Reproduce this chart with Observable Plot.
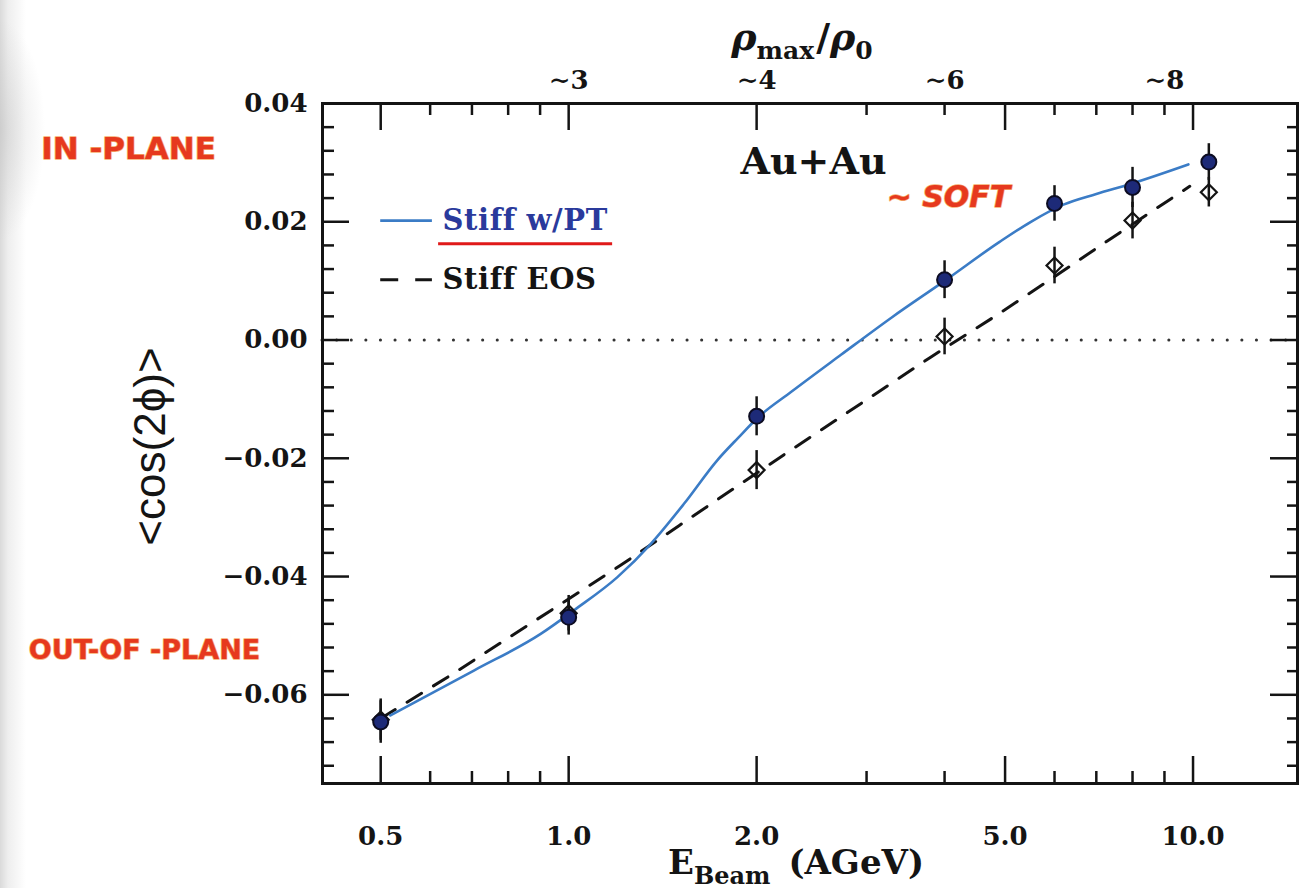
<!DOCTYPE html>
<html>
<head>
<meta charset="utf-8">
<script src="https://cdn.jsdelivr.net/npm/d3@7"></script>
<script src="https://cdn.jsdelivr.net/npm/@observablehq/plot@0.6"></script>
<style>
  html, body { margin: 0; padding: 0; }
  body {
    width: 1300px; height: 888px; overflow: hidden;
    background:
      radial-gradient(ellipse 45px 110px at 0px 130px, rgba(190,190,190,0.45), rgba(255,255,255,0) 100%),
      linear-gradient(to right, #dadada 0px, #eeeeee 8px, #ffffff 26px);
  }
  #chart svg { display: block; }
</style>
</head>
<body>
<div id="chart"></div>
<script>
// ---------- data ----------
const energy     = [0.5, 1.0, 2.0, 4.0, 6.0, 8.0, 10.6];           // E_Beam (AGeV)
const ptValues   = [-0.0646, -0.0469, -0.0129, 0.0102, 0.0231, 0.0258, 0.0301];
const ptErrors   = [0.0036, 0.0030, 0.0033, 0.0032, 0.0030, 0.0034, 0.0031];
const eosValues  = [-0.0642, -0.0462, -0.0220, 0.0006, 0.0126, 0.0202, 0.0250];
const eosErrors  = [0.0035, 0.0030, 0.0033, 0.0031, 0.0031, 0.0031, 0.0025];

// model curves
const ptCurveE  = [0.518, 0.705, 0.902, 1.02, 1.197, 1.353, 1.53, 1.731, 1.87, 2.01, 2.27, 2.73, 3.3, 4.0, 4.9, 5.5, 6.2, 7.0, 7.94, 9.83];
const ptCurveV  = [-0.0635, -0.0559, -0.0497, -0.0457, -0.0401, -0.0345, -0.0277, -0.0203, -0.0165, -0.0131, -0.0088, -0.0025, 0.0039, 0.0100, 0.0166, 0.0200, 0.0229, 0.0247, 0.0264, 0.0297];
const eosCurveE = [0.5, 0.647, 0.797, 0.983, 1.211, 1.502, 1.851, 2.241, 3.80, 4.80, 5.98, 7.30, 8.98, 9.88];
const eosCurveV = [-0.0640, -0.0567, -0.0505, -0.0443, -0.0381, -0.0314, -0.0249, -0.0190, -0.0029, 0.0039, 0.0106, 0.0168, 0.0231, 0.0260];

// axes
const xMajor = [0.5, 1, 2, 5, 10];
const xMinor = [0.6, 0.7, 0.8, 0.9, 3, 4, 6, 7, 8, 9];
const yMajor = [-0.06, -0.04, -0.02, 0, 0.02, 0.04];
const yMinor = [-0.072, -0.068, -0.064, -0.056, -0.052, -0.048, -0.044, -0.036, -0.032, -0.028, -0.024,
                -0.016, -0.012, -0.008, -0.004, 0.004, 0.008, 0.012, 0.016, 0.024, 0.028, 0.032, 0.036];
const densityAt     = [1, 2, 4, 9];
const densityLabels = ["∼3", "∼4", "∼6", "∼8"];

// series labels
const seriesNames = ["Stiff w/PT", "Stiff EOS"];

// ---------- tables ----------
const ptPoints  = energy.map((e, i) => ({e, v: ptValues[i],  err: ptErrors[i]}));
const eosPoints = energy.map((e, i) => ({e, v: eosValues[i], err: eosErrors[i]}));
const ptCurve   = ptCurveE.map((e, i) => ({e, v: ptCurveV[i]}));
const eosCurve  = eosCurveE.map((e, i) => ({e, v: eosCurveV[i]}));

const BLUE = "#3b7cc6";
const INK = "#141414";
const RED = "#e6391e";
const innerH = 680, innerW = 975;
const MAJ = 27, MIN = 12;

const serif = "'DejaVu Serif', serif";
const hand = {fontFamily: "'DejaVu Sans', sans-serif", fontWeight: "bold", fill: RED, stroke: "#f7b070", strokeWidth: 1.5, paintOrder: "stroke", textAnchor: "middle", lineAnchor: "middle"};

const plot = Plot.plot({
  width: 1300,
  height: 888,
  marginLeft: 322,
  marginRight: 3,
  marginTop: 103,
  marginBottom: 105,
  x: {type: "log", domain: [0.4034, 14.7]},
  y: {domain: [-0.075, 0.04]},
  style: {fontFamily: serif, fontSize: "26px", fontWeight: "bold", color: INK, background: "transparent", overflow: "visible"},
  marks: [
    // zero line
    Plot.ruleY([0], {stroke: "#333", strokeWidth: 3, strokeDasharray: "0.1,14.5", strokeLinecap: "round"}),
    // model curves
    Plot.line(eosCurve, {x: "e", y: "v", stroke: INK, strokeWidth: 3, strokeDasharray: "17,14"}),
    Plot.line(ptCurve, {x: "e", y: "v", stroke: BLUE, strokeWidth: 2.6, curve: "monotone-x"}),
    // error bars
    Plot.ruleX(eosPoints, {x: "e", y1: d => d.v - d.err, y2: d => d.v + d.err, stroke: INK, strokeWidth: 2.5}),
    Plot.ruleX(ptPoints,  {x: "e", y1: d => d.v - d.err, y2: d => d.v + d.err, stroke: INK, strokeWidth: 2.5}),
    // points
    Plot.dot(eosPoints, {x: "e", y: "v", symbol: "diamond2", r: 7.2, stroke: INK, strokeWidth: 2.2, fill: "none"}),
    Plot.dot(ptPoints,  {x: "e", y: "v", symbol: "circle", r: 7.5, stroke: "#0c0c22", strokeWidth: 2, fill: "#1d2a78"}),
    // ticks (inward) bottom / top
    Plot.tickX(xMajor, {x: d => d, insetTop: innerH - MAJ, stroke: INK, strokeWidth: 2.5}),
    Plot.tickX(xMinor, {x: d => d, insetTop: innerH - MIN, stroke: INK, strokeWidth: 2.5}),
    Plot.tickX(xMajor, {x: d => d, insetBottom: innerH - MAJ, stroke: INK, strokeWidth: 2.5}),
    Plot.tickX(xMinor, {x: d => d, insetBottom: innerH - MIN, stroke: INK, strokeWidth: 2.5}),
    // ticks left / right
    Plot.tickY(yMajor, {y: d => d, insetRight: innerW - MAJ, stroke: INK, strokeWidth: 2.5}),
    Plot.tickY(yMinor, {y: d => d, insetRight: innerW - MIN, stroke: INK, strokeWidth: 2.5}),
    Plot.tickY(yMajor, {y: d => d, insetLeft: innerW - MAJ, stroke: INK, strokeWidth: 2.5}),
    Plot.tickY(yMinor, {y: d => d, insetLeft: innerW - 10, stroke: INK, strokeWidth: 2.5}),
    // tick labels
    Plot.axisX(xMajor, {anchor: "bottom", tickSize: 0, tickPadding: 43, tickFormat: d3.format(".1f"), label: null, fontSize: 26, fontWeight: "bold"}),
    Plot.axisY(yMajor, {anchor: "left", tickSize: 0, tickPadding: 15, tickFormat: d3.format(".2f"), label: null, fontSize: 26, fontWeight: "bold"}),
    Plot.text(densityAt, {x: d => d, text: (d, i) => densityLabels[i], frameAnchor: "top", dy: -23, lineAnchor: "middle", fontSize: 26, fontWeight: "bold"}),
    // frame
    Plot.frame({stroke: INK, strokeWidth: 3}),
    // titles
    Plot.text(["ρmax/ρ0"], {frameAnchor: "top", dx: -8, dy: -66, lineAnchor: "middle", textAnchor: "middle", fontSize: 38, fontWeight: "bold"}),
    Plot.text(["EBeam (AGeV)"], {frameAnchor: "bottom", dx: -14, dy: 80, lineAnchor: "middle", textAnchor: "middle", fontSize: 34, fontWeight: "bold"}),
    Plot.text(["<cos(2ϕ)>"], {frameAnchor: "left", rotate: -90, dx: -172, dy: 3, lineAnchor: "middle", textAnchor: "middle",
      fontFamily: "'Liberation Sans', sans-serif", fontWeight: "normal", fontSize: 44}),
    Plot.text(["Au+Au"], {frameAnchor: "top-left", dx: 491, dy: 58, lineAnchor: "middle", textAnchor: "middle", fontSize: 38, fontWeight: "bold"}),
    // legend
    Plot.ruleY([0.0202], {x1: 0.5, x2: 0.605, stroke: BLUE, strokeWidth: 2.6}),
    Plot.ruleY([0.0102], {x1: 0.5, x2: 0.605, stroke: INK, strokeWidth: 3, strokeDasharray: "18,17"}),
    Plot.ruleY([0.0163], {x1: 0.619, x2: 1.176, stroke: "#e01a1a", strokeWidth: 3}),
    Plot.text([seriesNames[0]], {frameAnchor: "top-left", dx: 120, dy: 117, textAnchor: "start", lineAnchor: "middle",
      fontFamily: serif, fontSize: 29, fontWeight: "bold", fill: "#2a3a9c"}),
    Plot.text([seriesNames[1]], {frameAnchor: "top-left", dx: 120, dy: 176, textAnchor: "start", lineAnchor: "middle",
      fontFamily: serif, fontSize: 29, fontWeight: "bold", fill: INK}),
    // handwritten annotations
    Plot.text(["IN -PLANE"], {...hand, frameAnchor: "top-left", dx: -194, dy: 46, fontSize: 31}),
    Plot.text(["OUT-OF -PLANE"], {...hand, frameAnchor: "top-left", dx: -178, dy: 547, fontSize: 27}),
    Plot.text(["∼ SOFT"], {...hand, frameAnchor: "top-left", dx: 626, dy: 94, fontStyle: "italic", fontSize: 30})
  ]
});

document.getElementById("chart").appendChild(plot);

// letter spacing for the legend
d3.select(plot).selectAll("text").filter(function () { return seriesNames.includes(this.textContent); })
  .style("letter-spacing", "0.6px");

// rich text (subscripts) for titles
function richText(plain, parts) {
  const t = d3.select(plot).selectAll("text").filter(function () { return this.textContent === plain; });
  if (t.empty()) return;
  t.text(null);
  let cur = 0;
  parts.forEach(p => {
    const shift = p.shift || 0;
    const ts = t.append("tspan").text(p.t);
    if (shift - cur !== 0) ts.attr("dy", shift - cur);
    cur = shift;
    if (p.size) ts.attr("font-size", p.size);
    if (p.style) ts.attr("font-style", p.style);
    if (p.dx) ts.attr("dx", p.dx);
  });
}
richText("ρmax/ρ0", [
  {t: "ρ", style: "italic"},
  {t: "max", size: 25, shift: 9},
  {t: "/", shift: 0, dx: 2},
  {t: "ρ", style: "italic"},
  {t: "0", size: 25, shift: 9}
]);
richText("EBeam (AGeV)", [
  {t: "E"},
  {t: "Beam", size: 24, shift: 10},
  {t: "(AGeV)", shift: 0, dx: 18}
]);
</script>
</body>
</html>
